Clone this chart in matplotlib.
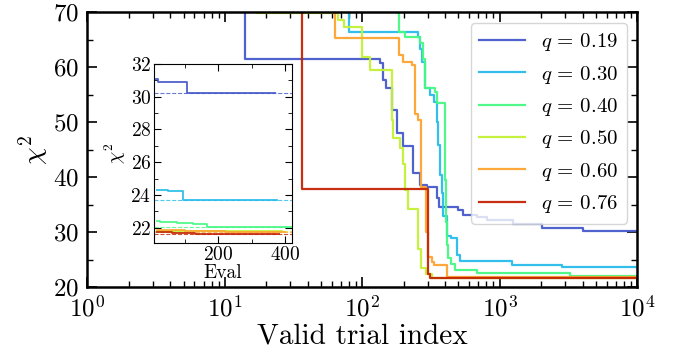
import numpy as np
import matplotlib
matplotlib.use("Agg")
import matplotlib.pyplot as plt
from matplotlib.ticker import MultipleLocator, LogLocator, NullFormatter

plt.rcParams['font.family'] = 'serif'
plt.rcParams['font.serif'] = ['cmr10', 'DejaVu Serif']
plt.rcParams['mathtext.fontset'] = 'cm'
plt.rcParams['axes.formatter.use_mathtext'] = True
plt.rcParams['axes.unicode_minus'] = False

# q values and colours (turbo-like)
q_values = [0.19, 0.30, 0.40, 0.50, 0.60, 0.76]
cmap_pos = [0.10, 0.25, 0.40, 0.55, 0.70, 0.90]

# best chi^2 so far vs valid trial index (step curves)
x_019 = [1, 14, 134, 142, 149, 164, 178, 199, 232, 263, 294, 351, 364, 499, 543, 679, 803, 1254, 2018, 4045, 10000]
y_019 = [80, 61.6, 60.7, 57.7, 56.3, 52.2, 48.0, 45.7, 40.8, 38.6, 38.3, 36.2, 34.6, 34.1, 33.1, 32.8, 32.2, 31.5, 30.8, 30.3, 30.3]

x_030 = [1, 80, 256, 263, 271, 286, 311, 330, 347, 357, 367, 378, 389, 411, 440, 485, 514, 1222, 2818, 10000]
y_030 = [80, 66.5, 65.5, 63.4, 61.0, 56.2, 55.0, 53.7, 50.1, 45.9, 40.5, 37.1, 33.0, 29.3, 29.0, 25.9, 24.8, 24.1, 23.75, 23.75]

x_040 = [1, 178, 184, 204, 263, 278, 286, 338, 347, 399, 405, 411, 422, 440, 472, 679, 3240, 10000]
y_040 = [80, 69.8, 66.5, 65.6, 64.5, 61.6, 56.2, 55.5, 53.6, 39.5, 31.9, 27.7, 25.3, 24.3, 23.15, 22.55, 22.05, 22.05]

x_050 = [1, 17, 67, 73, 99, 114, 164, 168, 188, 199, 204, 216, 256, 266, 290, 320, 10000]
y_050 = [80, 69.8, 68.6, 67.4, 61.9, 59.5, 50.4, 47.1, 45.3, 42.5, 37.7, 34.3, 27.0, 23.5, 22.4, 21.75, 21.75]

x_060 = [1, 63, 184, 199, 229, 242, 256, 268, 290, 300, 320, 330, 411, 10000]
y_060 = [80, 65.4, 62.2, 60.9, 60.5, 51.5, 50.5, 38.3, 30.0, 25.6, 24.6, 24.0, 21.8, 21.8]

x_076 = [1, 36.6, 299, 311, 10000]
y_076 = [80, 37.8, 22.5, 21.65, 21.65]

# inset: chi^2 vs evaluation, plus the minimum as a dashed line
ex_019 = [10, 20, 105, 370]
ey_019 = [31.08, 30.88, 30.25, 30.25]
ex_030 = [15, 50, 95, 375]
ey_030 = [24.3, 24.25, 23.68, 23.68]
ex_040 = [15, 25, 75, 125, 165, 420]
ey_040 = [22.42, 22.32, 22.28, 22.2, 22.02, 22.02]
ex_050 = [15, 220, 390]
ey_050 = [21.8, 21.76, 21.76]
ex_060 = [15, 100, 220, 400]
ey_060 = [21.82, 21.78, 21.72, 21.72]
ex_076 = [15, 60, 130, 380]
ey_076 = [21.72, 21.68, 21.62, 21.62]
best = [30.25, 23.68, 22.02, 21.76, 21.72, 21.62]

main_x = [x_019, x_030, x_040, x_050, x_060, x_076]
main_y = [y_019, y_030, y_040, y_050, y_060, y_076]
ins_x = [ex_019, ex_030, ex_040, ex_050, ex_060, ex_076]
ins_y = [ey_019, ey_030, ey_040, ey_050, ey_060, ey_076]

colors = [plt.cm.turbo(p) for p in cmap_pos]

fig = plt.figure(figsize=(6.83, 3.58), dpi=100)
ax = fig.add_axes([0.128, 0.1975, 0.805, 0.768])

for xs, ys, c, q in zip(main_x, main_y, colors, q_values):
    ax.step(xs, ys, where='post', color=c, lw=1.6, alpha=0.95, label=r'$q\,=\,%.2f$' % q)

ax.set_xscale('log')
ax.set_xlim(1, 1e4)
ax.set_ylim(20, 70)
ax.yaxis.set_major_locator(MultipleLocator(10))
ax.yaxis.set_minor_locator(MultipleLocator(5))
ax.xaxis.set_minor_locator(LogLocator(base=10, subs=np.arange(2, 10)))
ax.xaxis.set_minor_formatter(NullFormatter())
ax.tick_params(which='both', direction='in', top=True, right=True)
ax.tick_params(which='major', length=7, width=1.2, labelsize=18)
ax.tick_params(axis='x', which='major', pad=6)
ax.tick_params(axis='y', which='major', pad=6)
ax.tick_params(which='minor', length=4, width=1.0)
for s in ax.spines.values():
    s.set_linewidth(1.8)
ax.set_xlabel('Valid trial index', fontsize=21, labelpad=1)
ax.set_ylabel(r'$\chi^2$', fontsize=20, labelpad=2)
ax.legend(loc='upper right', fontsize=15, handlelength=2.2)

# inset
axi = fig.add_axes([0.2255, 0.321, 0.202, 0.5])
for xs, ys, c, b in zip(ins_x, ins_y, colors, best):
    axi.step(xs, ys, where='post', color=c, lw=1.3, alpha=0.95)
    axi.axhline(b, color=c, lw=0.8, ls='--', alpha=0.8)
axi.set_xlim(7, 420)
axi.set_ylim(21.05, 32)
axi.xaxis.set_major_locator(MultipleLocator(200))
axi.xaxis.set_minor_locator(MultipleLocator(100))
axi.yaxis.set_major_locator(MultipleLocator(2))
axi.yaxis.set_minor_locator(MultipleLocator(1))
axi.tick_params(which='both', direction='in', top=True, right=True)
axi.tick_params(which='major', length=5, labelsize=14, pad=2)
axi.tick_params(which='minor', length=3)
axi.set_xlabel('Eval', fontsize=14, labelpad=0)
axi.set_ylabel(r'$\chi^2$', fontsize=14, labelpad=2)

fig.savefig('out.png', dpi=100)
